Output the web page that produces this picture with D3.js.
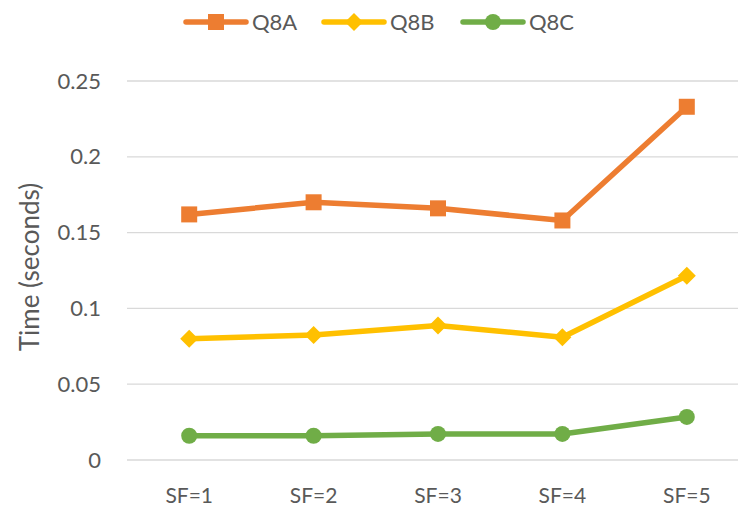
<!DOCTYPE html>
<html>
<head>
<meta charset="utf-8">
<script src="https://cdn.jsdelivr.net/npm/d3@7"></script>
<style>
  body { margin: 0; background: #fff; }
  svg { display: block; font-family: Lato, "Open Sans", sans-serif; }
</style>
</head>
<body>
<svg id="chart"></svg>
<script>
const categories = ["SF=1", "SF=2", "SF=3", "SF=4", "SF=5"];
const q8a = [0.162, 0.170, 0.166, 0.158, 0.233];
const q8b = [0.080, 0.0825, 0.0887, 0.081, 0.1215];
const q8c = [0.016, 0.016, 0.0172, 0.0172, 0.0284];
const yTicks = [0, 0.05, 0.1, 0.15, 0.2, 0.25];

const width = 738;
const height = 508;

const series = [
  { name: "Q8A", values: q8a, color: "#ED7D31", marker: "square" },
  { name: "Q8B", values: q8b, color: "#FFC000", marker: "diamond" },
  { name: "Q8C", values: q8c, color: "#70AD47", marker: "circle" }
];

const svg = d3.select("#chart")
  .attr("width", width)
  .attr("height", height);

const xScale = d3.scaleBand()
  .domain(categories)
  .range([127, 749]);

const yScale = d3.scaleLinear()
  .domain([0, 0.25])
  .range([460, 81]);

// grid lines
svg.append("g")
  .selectAll("line")
  .data(yTicks)
  .enter()
  .append("line")
  .attr("x1", 127)
  .attr("x2", 749)
  .attr("y1", d => yScale(d))
  .attr("y2", d => yScale(d))
  .attr("stroke", "#d9d9d9")
  .attr("stroke-width", 1.3);

const yAxis = svg.append("g")
  .attr("transform", "translate(127,0)")
  .call(d3.axisLeft(yScale).tickValues(yTicks).tickSize(0).tickPadding(26).tickFormat(d => String(d)));
yAxis.select(".domain").remove();
yAxis.selectAll("text")
  .attr("fill", "#595959")
  .style("font-size", "22px")
  .style("font-family", "Lato, sans-serif");

const xAxis = svg.append("g")
  .attr("transform", "translate(0,460)")
  .call(d3.axisBottom(xScale).tickSize(0).tickPadding(28));
xAxis.select(".domain").remove();
xAxis.selectAll("text")
  .attr("fill", "#595959")
  .style("font-size", "21px")
  .style("font-family", "Lato, sans-serif");

svg.append("text")
  .attr("transform", "translate(39,267) rotate(-90)")
  .attr("text-anchor", "middle")
  .attr("fill", "#595959")
  .style("font-size", "26px")
  .text("Time (seconds)");

const cx = d => xScale(d) + xScale.bandwidth() / 2;

const line = d3.line()
  .x((d, i) => cx(categories[i]))
  .y(d => yScale(d));

function drawMarker(g, type, x, y, color) {
  if (type === "square") {
    g.append("rect").attr("x", x - 8).attr("y", y - 8)
      .attr("width", 16).attr("height", 16).attr("fill", color);
  } else if (type === "diamond") {
    g.append("path")
      .attr("d", `M${x},${y - 9}L${x + 9},${y}L${x},${y + 9}L${x - 9},${y}Z`)
      .attr("fill", color);
  } else {
    g.append("circle").attr("cx", x).attr("cy", y).attr("r", 8).attr("fill", color);
  }
}

series.forEach(s => {
  const g = svg.append("g");
  g.append("path")
    .datum(s.values)
    .attr("d", line)
    .attr("fill", "none")
    .attr("stroke", s.color)
    .attr("stroke-width", 5.5)
    .attr("stroke-linejoin", "round")
    .attr("stroke-linecap", "round");
  s.values.forEach((v, i) => drawMarker(g, s.marker, cx(categories[i]), yScale(v), s.color));
});

// legend
const legendX = [186, 324, 463];
series.forEach((s, i) => {
  const g = svg.append("g").attr("transform", `translate(${legendX[i]},22)`);
  g.append("line")
    .attr("x1", 0).attr("x2", 60)
    .attr("stroke", s.color)
    .attr("stroke-width", 5.5)
    .attr("stroke-linecap", "round");
  drawMarker(g, s.marker, 30, 0, s.color);
  g.append("text")
    .attr("x", 66)
    .attr("y", 8)
    .attr("fill", "#595959")
    .style("font-size", "22px")
    .text(s.name);
});
</script>
</body>
</html>
